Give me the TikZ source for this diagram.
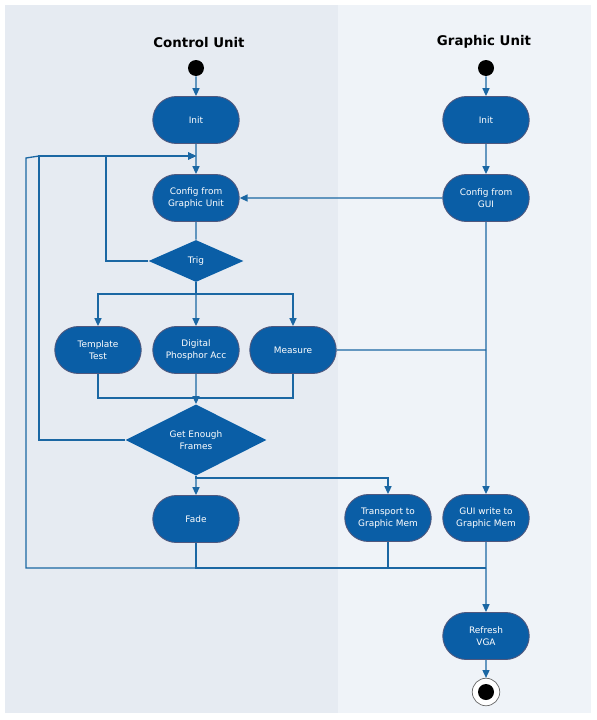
\documentclass[tikz,border=0pt]{standalone}
\usepackage{fontspec}
\setmainfont{DejaVu Sans}
\usetikzlibrary{shapes.misc,shapes.geometric,arrows.meta}
\definecolor{laneA}{HTML}{E6EBF2}
\definecolor{laneB}{HTML}{EFF3F8}
\definecolor{actblue}{HTML}{0A5EA6}
\definecolor{actedge}{HTML}{50587E}
\definecolor{flowblue}{HTML}{1B67A3}

\begin{document}
\begin{tikzpicture}[x=0.02cm,y=-0.02cm,
    act/.style={rounded rectangle,draw=actedge,fill=actblue,text=white,align=center,
      font=\fontsize{5.1}{6.6}\selectfont,minimum width=1.8cm,minimum height=0.94cm,
      inner sep=1pt,line width=0.5pt},
    dec/.style={diamond,fill=actblue,text=white,align=center,
      font=\fontsize{5.1}{6.6}\selectfont,inner sep=0pt},
    flow/.style={draw=flowblue,line width=0.75pt},
    arr/.style={flow,-{Triangle[length=4.5pt,width=4pt]}},
    dot/.style={circle,fill=black,minimum size=0.32cm,inner sep=0pt},
    title/.style={font=\bfseries\fontsize{7.6}{9}\selectfont}]
  \useasboundingbox (0,0) rectangle (596,720);
  \fill[white] (0,0) rectangle (596,720);
  \fill[laneA] (5,5) rectangle (338,713);
  \fill[laneB] (338,5) rectangle (591,713);

  %control unit
  \node[title] (ctitle) at (199,43) {Control Unit};
  \node[dot] (cs) at (196,68) {};
  \node[act] (cinit) at (196,120) {Init};
  \node[act] (ccfg) at (196,198) {Config from\\Graphic Unit};
  \node[dec,minimum width=1.9cm,minimum height=0.84cm] (trig) at (196,261) {Trig};
  \node[act] (tmpl) at (98,350) {Template\\Test};
  \node[act] (dpa) at (196,350) {Digital\\Phosphor Acc};
  \node[act] (meas) at (293,350) {Measure};
  \node[dec,minimum width=2.82cm,minimum height=1.18cm] (gef) at (196,440) {Get Enough\\Frames};
  \node[act] (fade) at (196,519) {Fade};
  \node[act] (trans) at (388,518) {Transport to\\Graphic Mem};

  %graphic unit
  \node[title] (gtitle) at (484,42) {Graphic Unit};
  \node[dot] (gs) at (486,68) {};
  \node[act] (ginit) at (486,120) {Init};
  \node[act] (gcfg) at (486,198) {Config from\\GUI};
  \node[act] (gwr) at (486,518) {GUI write to\\Graphic Mem};
  \node[act] (vga) at (486,636) {Refresh\\VGA};
  \node[circle,draw=black!60,fill=white,minimum size=0.55cm,inner sep=0pt] (fin) at (486,692) {};
  \fill (fin) circle (0.16cm);

  \coordinate (lp) at (196,156);
  \coordinate (fork) at (196,294);
  \coordinate (join) at (196,398);
  \coordinate (mrg) at (486,568);

  \draw[arr] (cs) -- (cinit);
  \draw[arr] (cinit) -- (ccfg);
  \draw[arr] (gs) -- (ginit);
  \draw[arr] (ginit) -- (gcfg);
  \draw[arr] (gcfg) -- (ccfg);
  \draw[arr] (gcfg) -- (gwr);
  \draw[flow] (ccfg) -- (trig);
  \draw[flow] (trig) -- (fork);
  \draw[arr] (fork) -| (tmpl);
  \draw[arr] (fork) -- (dpa);
  \draw[arr] (fork) -| (meas);
  \draw[flow] (tmpl) |- (join) -| (meas);
  \draw[arr] (dpa) -- (gef);
  \draw[flow] (meas) -- (meas -| gcfg);

  %loops back to config
  \draw[arr] (trig.west) -| (106,156) -- (lp);
  \draw[arr] (gef.west) -| (39,156) -- (lp);
  \draw[arr] (fade.south) -- (196,568) -- (26,568) -- (26,158) -- (39,156) -- (lp);

  \draw[arr] (gef) -- (fade);
  \draw[arr] (gef.south) -- (196,478) -| (trans);
  \draw[flow] (fade) |- (mrg);
  \draw[flow] (trans) |- (mrg);
  \draw[flow] (gwr) -- (mrg);
  \draw[arr] (mrg) -- (vga);
  \draw[arr] (vga) -- (fin);
\end{tikzpicture}
\end{document}
